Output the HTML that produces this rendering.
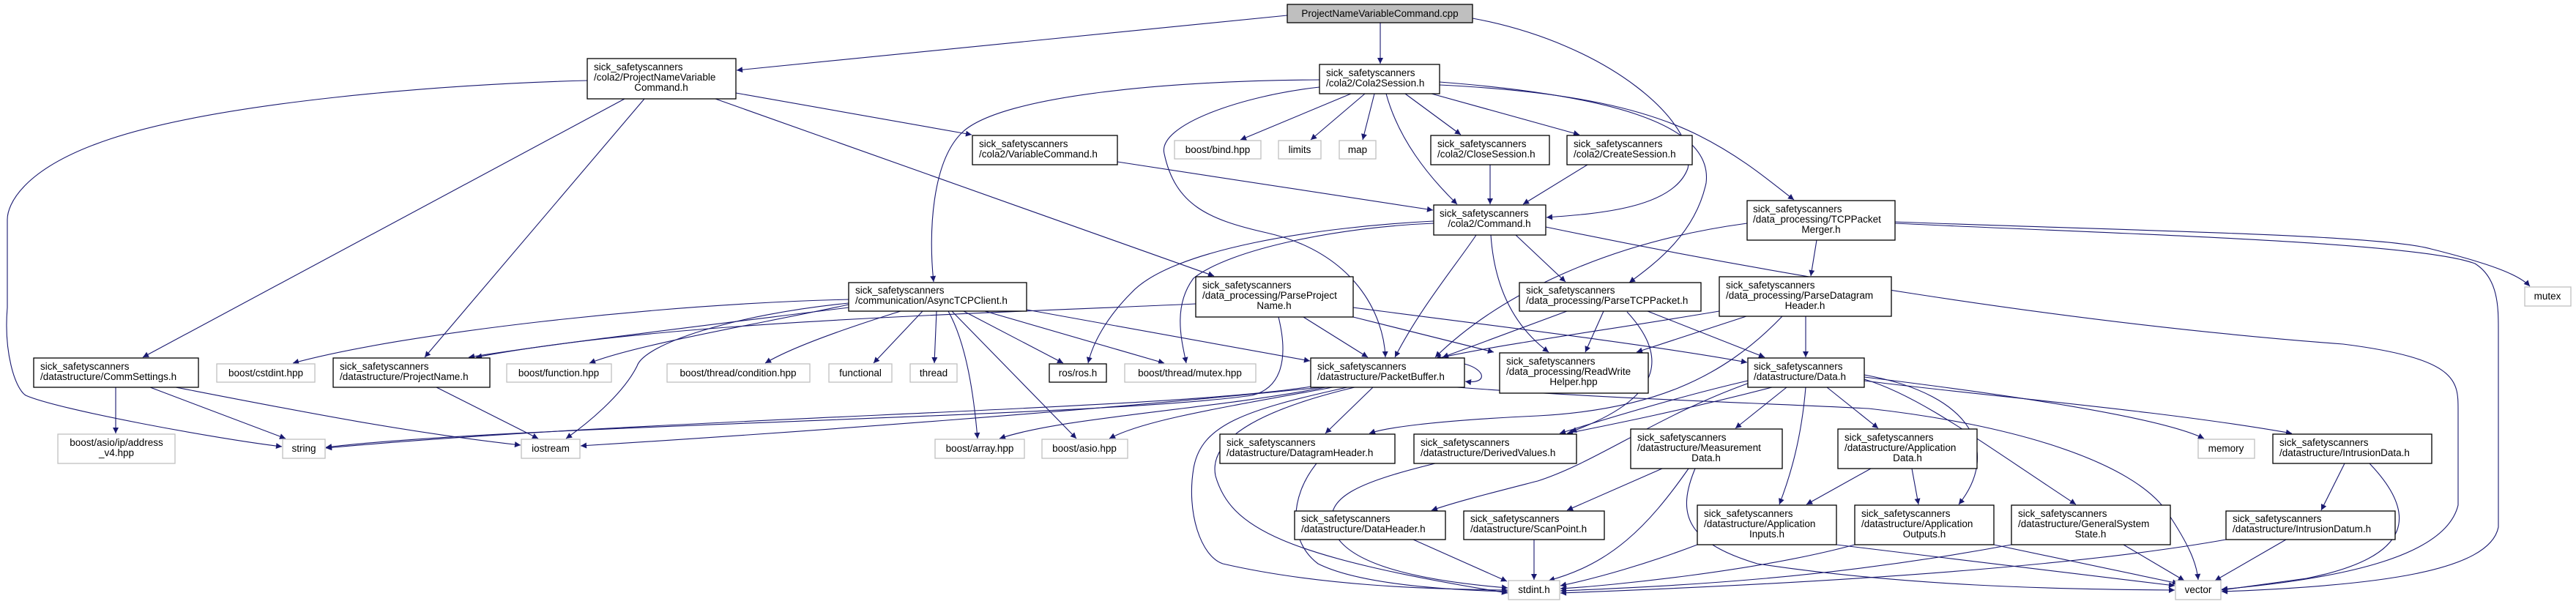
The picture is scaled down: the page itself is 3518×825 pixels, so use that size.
<!DOCTYPE html>
<html><head><meta charset="utf-8"><style>
html,body{margin:0;padding:0;background:#fff;}
svg{display:block;}
text{font-family:"Liberation Sans","DejaVu Sans",sans-serif;font-size:13.5px;fill:#000;}
.n{fill:#fff;stroke:#000;stroke-width:1.3;}
.g{fill:#fff;stroke:#bfbfbf;stroke-width:1.3;}
.e{fill:none;stroke:#191970;stroke-width:1.1;marker-end:url(#a);}
</style></head><body>
<svg width="3518" height="825" viewBox="0 0 3518 825" xmlns="http://www.w3.org/2000/svg">
<defs><marker id="a" viewBox="0 0 10 10" refX="10" refY="5" markerWidth="11" markerHeight="8" markerUnits="userSpaceOnUse" orient="auto"><path d="M0,0 L10,5 L0,10 z" fill="#191970"/></marker></defs>

<g>
<path class="e" d="M1758,21 L1006,96"/>
<path class="e" d="M1885,31 L1885,87"/>
<path class="e" d="M2011,25 C2200,60 2320,170 2305,230 C2285,285 2180,292 2112,297"/>
<path class="e" d="M1966,112 C2200,130 2340,170 2330,250 C2315,320 2260,360 2225,386"/>
<path class="e" d="M1966,116 C2150,125 2250,150 2320,185 C2380,215 2420,250 2450,273"/>
<path class="e" d="M1955,128 L2157,184"/>
<path class="e" d="M1919,128 L1995,184"/>
<path class="e" d="M1893,128 C1910,190 1950,240 1990,279"/>
<path class="e" d="M1877,128 L1861,191"/>
<path class="e" d="M1864,128 L1790,191"/>
<path class="e" d="M1845,128 L1694,191"/>
<path class="e" d="M1802,109 C1600,110 1370,130 1315,180 C1272,220 1268,320 1275,385"/>
<path class="e" d="M1802,119 C1700,130 1580,170 1590,210 C1605,280 1650,300 1730,318 C1850,345 1890,430 1892,488"/>
<path class="e" d="M802,110 C600,115 300,140 150,190 C30,230 10,280 10,300 L10,420 C5,480 20,530 35,540 C80,560 300,600 385,610"/>
<path class="e" d="M853,135 L195,488"/>
<path class="e" d="M880,135 L580,488"/>
<path class="e" d="M1005,127 L1327,184"/>
<path class="e" d="M977,135 L1658,377"/>
<path class="e" d="M1526,221 L1957,287"/>
<path class="e" d="M2035,225 L2035,279"/>
<path class="e" d="M2168,225 L2080,279"/>
<path class="e" d="M1958,302 C1800,310 1600,340 1545,400 C1510,435 1492,470 1486,496"/>
<path class="e" d="M1958,305 C1830,310 1680,340 1630,380 C1600,420 1615,470 1620,496"/>
<path class="e" d="M2016,321 C1990,360 1940,420 1905,488"/>
<path class="e" d="M2036,321 C2040,380 2060,440 2115,481"/>
<path class="e" d="M2070,321 L2138,385"/>
<path class="e" d="M2111,310 C2400,370 2800,440 3200,470 C3357,490 3357,520 3357,560 L3357,690 C3340,760 3200,790 3034,805"/>
<path class="e" d="M2588,305 C2900,320 3300,330 3380,360 C3412,380 3412,420 3412,450 L3412,720 C3400,780 3250,800 3034,808"/>
<path class="e" d="M2588,303 C2900,315 3250,320 3320,340 C3400,360 3440,375 3455,391"/>
<path class="e" d="M1159,409 C900,415 550,455 400,496"/>
<path class="e" d="M1159,420 C1000,440 750,470 640,488"/>
<path class="e" d="M1159,416 C1050,440 870,470 805,496"/>
<path class="e" d="M1230,425 C1150,450 1080,475 1045,496"/>
<path class="e" d="M1159,414 C1000,430 880,470 870,500 C850,540 800,580 773,599"/>
<path class="e" d="M1260,425 L1193,496"/>
<path class="e" d="M1279,425 L1276,496"/>
<path class="e" d="M1316,425 L1452,496"/>
<path class="e" d="M1345,425 L1590,496"/>
<path class="e" d="M1295,425 C1320,470 1330,540 1335,599"/>
<path class="e" d="M1300,425 L1470,599"/>
<path class="e" d="M1402,423 L1789,493"/>
<path class="e" d="M1633,415 C1300,430 900,440 650,488"/>
<path class="e" d="M1780,433 L1868,488"/>
<path class="e" d="M1848,433 L2040,481"/>
<path class="e" d="M1848,420 C2000,440 2250,470 2386,495"/>
<path class="e" d="M1746,433 C1760,490 1750,530 1710,540 C1500,570 700,580 445,611"/>
<path class="e" d="M2000,497 C2030,505 2032,525 2001,521"/>
<path class="e" d="M1875,529 L1810,592"/>
<path class="e" d="M1790,528 C1600,560 900,570 445,612"/>
<path class="e" d="M1805,529 C1500,560 1100,590 793,609"/>
<path class="e" d="M1810,529 C1650,560 1450,570 1365,599"/>
<path class="e" d="M1820,529 C1650,560 1560,575 1515,599"/>
<path class="e" d="M1840,529 C1700,560 1640,580 1630,640 C1620,700 1640,760 1670,770 C1800,800 1950,805 2059,806"/>
<path class="e" d="M1850,529 C1720,560 1650,600 1660,650 C1680,720 1750,760 2059,810"/>
<path class="e" d="M1990,529 C2200,545 2400,550 2552,558 C2750,580 2914,631 2960,700 C2990,745 3000,770 3002,792"/>
<path class="e" d="M2190,425 L2165,481"/>
<path class="e" d="M2250,425 L2410,488"/>
<path class="e" d="M2140,425 L1970,488"/>
<path class="e" d="M2222,426 C2272,480 2282,540 2145,590"/>
<path class="e" d="M2466,432 L2466,488"/>
<path class="e" d="M2385,432 L2235,481"/>
<path class="e" d="M2348,425 C2200,450 2050,470 1960,490"/>
<path class="e" d="M2434,432 C2350,520 2250,560 2100,568 C1950,575 1890,585 1870,592"/>
<path class="e" d="M2481,328 L2473,377"/>
<path class="e" d="M2386,305 C2200,330 2050,400 1960,488"/>
<path class="e" d="M2387,520 C2300,540 2200,570 2130,592"/>
<path class="e" d="M2420,529 C2300,560 2200,580 2140,592"/>
<path class="e" d="M2440,529 L2370,585"/>
<path class="e" d="M2466,529 C2460,600 2445,650 2430,689"/>
<path class="e" d="M2495,529 L2565,585"/>
<path class="e" d="M2546,512 C2700,540 2730,620 2675,689"/>
<path class="e" d="M2546,518 C2620,540 2700,600 2835,689"/>
<path class="e" d="M2546,515 C2750,540 2950,570 3010,599"/>
<path class="e" d="M2546,520 C2700,540 2950,560 3130,592"/>
<path class="e" d="M2389,523 C2263,568 2181,631 2100,657 C2030,675 1990,685 1955,697"/>
<path class="e" d="M2270,640 L2140,697"/>
<path class="e" d="M2306,640 C2250,720 2200,770 2115,793"/>
<path class="e" d="M2315,640 C2290,700 2300,740 2400,770 C2600,800 2800,805 2970,806"/>
<path class="e" d="M2555,640 L2467,689"/>
<path class="e" d="M2611,640 L2620,689"/>
<path class="e" d="M2318,744 C2250,770 2180,790 2131,800"/>
<path class="e" d="M2508,744 L2970,800"/>
<path class="e" d="M2533,744 C2400,780 2200,800 2131,804"/>
<path class="e" d="M2723,744 L2975,797"/>
<path class="e" d="M2747,744 C2500,790 2300,800 2131,807"/>
<path class="e" d="M2900,744 L2983,793"/>
<path class="e" d="M3040,737 C2800,780 2400,800 2131,810"/>
<path class="e" d="M3122,737 L3025,793"/>
<path class="e" d="M3202,633 L3170,697"/>
<path class="e" d="M3236,633 C3300,700 3300,760 3150,790 L3034,806"/>
<path class="e" d="M1798,633 C1760,680 1760,740 1800,770 C1850,795 1950,805 2059,808"/>
<path class="e" d="M1960,633 C1850,660 1810,680 1820,720 C1830,760 1900,790 2059,803"/>
<path class="e" d="M1930,737 L2058,794"/>
<path class="e" d="M2095,737 L2095,792"/>
<path class="e" d="M158,529 L158,592"/>
<path class="e" d="M205,529 L390,599"/>
<path class="e" d="M240,529 C400,560 550,590 711,608"/>
<path class="e" d="M596,529 L735,599"/>
</g>

<rect x="1758" y="6" width="253" height="25" fill="#bfbfbf" stroke="#000" stroke-width="1.3"/>
<text x="1884.5" y="23" text-anchor="middle">ProjectNameVariableCommand.cpp</text>

<rect class="n" x="802" y="80" width="203" height="55"/>
<text x="811" y="96">sick_safetyscanners</text><text x="811" y="110">/cola2/ProjectNameVariable</text><text x="903" y="124" text-anchor="middle">Command.h</text>

<rect class="n" x="1802" y="88" width="164" height="40"/>
<text x="1811" y="104">sick_safetyscanners</text><text x="1811" y="118">/cola2/Cola2Session.h</text>

<rect class="n" x="1328" y="185" width="198" height="40"/>
<text x="1337" y="201">sick_safetyscanners</text><text x="1337" y="215">/cola2/VariableCommand.h</text>

<rect class="g" x="1604" y="192" width="118" height="25"/><text x="1663" y="209" text-anchor="middle">boost/bind.hpp</text>
<rect class="g" x="1746" y="192" width="58" height="25"/><text x="1775" y="209" text-anchor="middle">limits</text>
<rect class="g" x="1829" y="192" width="50" height="25"/><text x="1854" y="209" text-anchor="middle">map</text>

<rect class="n" x="1954" y="185" width="162" height="40"/>
<text x="1963" y="201">sick_safetyscanners</text><text x="1963" y="215">/cola2/CloseSession.h</text>

<rect class="n" x="2140" y="185" width="171" height="40"/>
<text x="2149" y="201">sick_safetyscanners</text><text x="2149" y="215">/cola2/CreateSession.h</text>

<rect class="n" x="1958" y="280" width="153" height="41"/>
<text x="1966" y="296">sick_safetyscanners</text><text x="2034" y="310" text-anchor="middle">/cola2/Command.h</text>

<rect class="n" x="2386" y="274" width="202" height="54"/>
<text x="2394" y="290">sick_safetyscanners</text><text x="2394" y="304">/data_processing/TCPPacket</text><text x="2487" y="318" text-anchor="middle">Merger.h</text>

<rect class="n" x="1159" y="386" width="243" height="39"/>
<text x="1168" y="401">sick_safetyscanners</text><text x="1168" y="415">/communication/AsyncTCPClient.h</text>

<rect class="n" x="1633" y="378" width="215" height="55"/>
<text x="1642" y="394">sick_safetyscanners</text><text x="1642" y="408">/data_processing/ParseProject</text><text x="1740" y="422" text-anchor="middle">Name.h</text>

<rect class="n" x="2075" y="386" width="248" height="39"/>
<text x="2084" y="401">sick_safetyscanners</text><text x="2084" y="415">/data_processing/ParseTCPPacket.h</text>

<rect class="n" x="2348" y="378" width="235" height="54"/>
<text x="2357" y="394">sick_safetyscanners</text><text x="2357" y="408">/data_processing/ParseDatagram</text><text x="2465" y="422" text-anchor="middle">Header.h</text>

<rect class="g" x="3448" y="392" width="63" height="26"/><text x="3479" y="409" text-anchor="middle">mutex</text>

<rect class="n" x="46" y="489" width="225" height="40"/>
<text x="55" y="505">sick_safetyscanners</text><text x="55" y="519">/datastructure/CommSettings.h</text>
<rect class="g" x="296" y="497" width="134" height="25"/><text x="363" y="514" text-anchor="middle">boost/cstdint.hpp</text>
<rect class="n" x="455" y="489" width="214" height="40"/>
<text x="464" y="505">sick_safetyscanners</text><text x="464" y="519">/datastructure/ProjectName.h</text>
<rect class="g" x="692" y="497" width="143" height="25"/><text x="763" y="514" text-anchor="middle">boost/function.hpp</text>
<rect class="g" x="911" y="497" width="195" height="25"/><text x="1008" y="514" text-anchor="middle">boost/thread/condition.hpp</text>
<rect class="g" x="1132" y="497" width="86" height="25"/><text x="1175" y="514" text-anchor="middle">functional</text>
<rect class="g" x="1243" y="497" width="64" height="25"/><text x="1275" y="514" text-anchor="middle">thread</text>
<rect class="n" x="1433" y="497" width="78" height="25"/><text x="1472" y="514" text-anchor="middle">ros/ros.h</text>
<rect class="g" x="1536" y="497" width="179" height="25"/><text x="1625" y="514" text-anchor="middle">boost/thread/mutex.hpp</text>

<rect class="n" x="1790" y="489" width="210" height="40"/>
<text x="1799" y="505">sick_safetyscanners</text><text x="1799" y="519">/datastructure/PacketBuffer.h</text>

<rect class="n" x="2048" y="482" width="203" height="55"/>
<text x="2057" y="498">sick_safetyscanners</text><text x="2057" y="512">/data_processing/ReadWrite</text><text x="2149" y="526" text-anchor="middle">Helper.hpp</text>

<rect class="n" x="2387" y="489" width="159" height="40"/>
<text x="2395" y="505">sick_safetyscanners</text><text x="2395" y="519">/datastructure/Data.h</text>

<rect class="g" x="79" y="593" width="160" height="40"/>
<text x="159" y="609" text-anchor="middle">boost/asio/ip/address</text><text x="159" y="623" text-anchor="middle">_v4.hpp</text>
<rect class="g" x="386" y="600" width="58" height="26"/><text x="415" y="617" text-anchor="middle">string</text>
<rect class="g" x="712" y="600" width="80" height="26"/><text x="752" y="617" text-anchor="middle">iostream</text>
<rect class="g" x="1277" y="600" width="122" height="26"/><text x="1338" y="617" text-anchor="middle">boost/array.hpp</text>
<rect class="g" x="1423" y="600" width="117" height="26"/><text x="1481" y="617" text-anchor="middle">boost/asio.hpp</text>

<rect class="n" x="1666" y="593" width="239" height="40"/>
<text x="1675" y="609">sick_safetyscanners</text><text x="1675" y="623">/datastructure/DatagramHeader.h</text>
<rect class="n" x="1931" y="593" width="222" height="40"/>
<text x="1940" y="609">sick_safetyscanners</text><text x="1940" y="623">/datastructure/DerivedValues.h</text>
<rect class="n" x="2227" y="586" width="207" height="54"/>
<text x="2236" y="602">sick_safetyscanners</text><text x="2236" y="616">/datastructure/Measurement</text><text x="2330" y="630" text-anchor="middle">Data.h</text>
<rect class="n" x="2510" y="586" width="190" height="54"/>
<text x="2519" y="602">sick_safetyscanners</text><text x="2519" y="616">/datastructure/Application</text><text x="2605" y="630" text-anchor="middle">Data.h</text>
<rect class="g" x="3002" y="600" width="77" height="26"/><text x="3040" y="617" text-anchor="middle">memory</text>
<rect class="n" x="3104" y="593" width="217" height="40"/>
<text x="3113" y="609">sick_safetyscanners</text><text x="3113" y="623">/datastructure/IntrusionData.h</text>

<rect class="n" x="1768" y="698" width="206" height="39"/>
<text x="1777" y="713">sick_safetyscanners</text><text x="1777" y="727">/datastructure/DataHeader.h</text>
<rect class="n" x="1999" y="698" width="192" height="39"/>
<text x="2008" y="713">sick_safetyscanners</text><text x="2008" y="727">/datastructure/ScanPoint.h</text>
<rect class="n" x="2318" y="690" width="190" height="54"/>
<text x="2327" y="706">sick_safetyscanners</text><text x="2327" y="720">/datastructure/Application</text><text x="2413" y="734" text-anchor="middle">Inputs.h</text>
<rect class="n" x="2533" y="690" width="190" height="54"/>
<text x="2542" y="706">sick_safetyscanners</text><text x="2542" y="720">/datastructure/Application</text><text x="2628" y="734" text-anchor="middle">Outputs.h</text>
<rect class="n" x="2747" y="690" width="217" height="54"/>
<text x="2756" y="706">sick_safetyscanners</text><text x="2756" y="720">/datastructure/GeneralSystem</text><text x="2855" y="734" text-anchor="middle">State.h</text>
<rect class="n" x="3040" y="698" width="231" height="39"/>
<text x="3049" y="713">sick_safetyscanners</text><text x="3049" y="727">/datastructure/IntrusionDatum.h</text>

<rect class="g" x="2060" y="793" width="70" height="26"/><text x="2095" y="810" text-anchor="middle">stdint.h</text>
<rect class="g" x="2971" y="793" width="62" height="26"/><text x="3002" y="810" text-anchor="middle">vector</text>
</svg>
</body></html>
